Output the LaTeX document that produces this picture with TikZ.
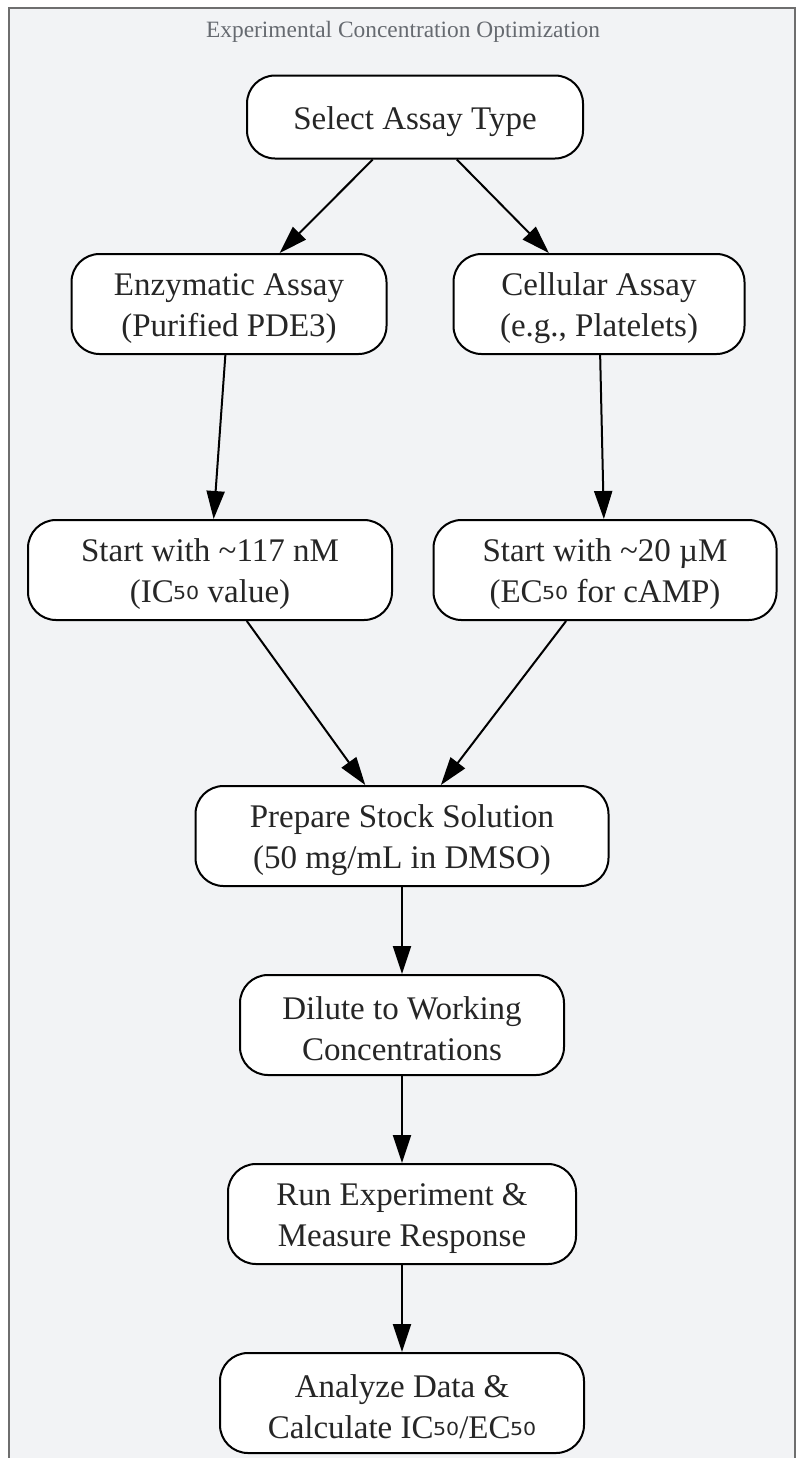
\documentclass[tikz,border=0pt]{standalone}
\usepackage{fontspec}
\setmainfont{Liberation Serif}
\newfontfamily\subfnt{DejaVu Sans}
\usetikzlibrary{positioning,arrows.meta}

\definecolor{panelbg}{HTML}{F2F3F5}
\definecolor{panelline}{HTML}{6E6E6E}
\definecolor{titlegray}{HTML}{666A70}
\definecolor{inkgray}{HTML}{262626}

\newcommand{\fifty}{{\subfnt\fontsize{16pt}{19pt}\selectfont\raisebox{1.5pt}{₅₀}}}

\tikzset{
  stage/.style={draw=black,line width=1pt,fill=white,rounded corners=14pt,
    align=center,inner xsep=6pt,minimum height=50pt,text height=36pt,
    text=inkgray,font=\fontsize{16.5pt}{20.5pt}\selectfont},
  flow/.style={draw=black,line width=1pt,-{Triangle[length=14pt,width=9pt]}}
}

\begin{document}
\begin{tikzpicture}[x=0.5pt,y=-0.5pt]
\useasboundingbox (0,0) rectangle (804,1458);

\draw[panelline,fill=panelbg,line width=1pt] (9,8) rectangle (795,1475);
\node[text=titlegray,font=\fontsize{11.7pt}{14pt}\selectfont] (title) at (403,32) {Experimental Concentration Optimization};

\node[stage,minimum height=41.5pt,text height=16pt,minimum width=168pt] (select) at (415,117) {Select Assay Type};
\node[stage,minimum width=157.5pt] (enz) at (229,304) {Enzymatic Assay\\(Purified PDE3)};
\node[stage,minimum width=145.5pt] (cell) at (599,304) {Cellular Assay\\(e.g., Platelets)};
\node[stage,minimum width=182pt] (nm) at (210,570) {Start with \textasciitilde 117 nM\\(IC\fifty{} value)};
\node[stage,minimum width=171.5pt] (um) at (605,570) {Start with \textasciitilde 20 µM\\(EC\fifty{} for cAMP)};
\node[stage,minimum width=206.5pt] (stock) at (402,836) {Prepare Stock Solution\\(50 mg/mL in DMSO)};
\node[stage,minimum width=162pt,below=43.5pt of stock] (dilute) {Dilute to Working\\Concentrations};
\node[stage,minimum width=174pt,below=43.5pt of dilute] (run) {Run Experiment \&\\Measure Response};
\node[stage,minimum width=182pt,below=43.5pt of run] (analyze) {Analyze Data \&\\Calculate IC\fifty/EC\fifty};

\draw[flow] (select) -- (enz);
\draw[flow] (select) -- (cell);
\draw[flow] (enz) -- (nm);
\draw[flow] (cell) -- (um);
\draw[flow] (nm) -- (stock);
\draw[flow] (um) -- (stock);
\draw[flow] (stock) -- (dilute);
\draw[flow] (dilute) -- (run);
\draw[flow] (run) -- (analyze);
\end{tikzpicture}
\end{document}
